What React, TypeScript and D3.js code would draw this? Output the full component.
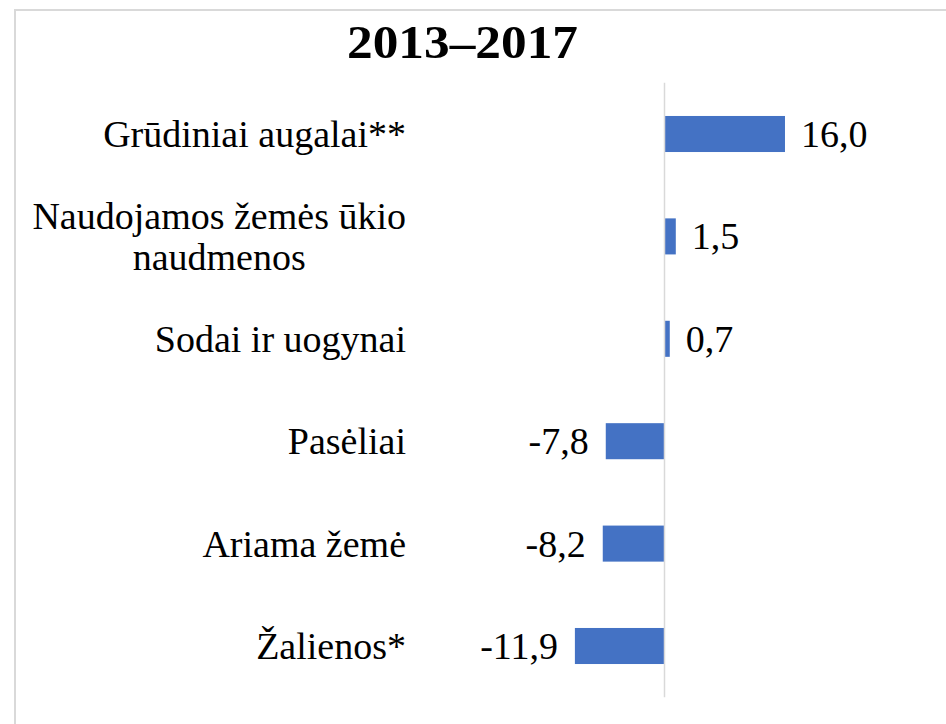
import React, { useEffect, useRef } from "react";
import * as d3 from "d3";

const title = "2013–2017";
const categories = [
  "Grūdiniai augalai**",
  "Naudojamos žemės ūkio naudmenos",
  "Sodai ir uogynai",
  "Pasėliai",
  "Ariama žemė",
  "Žalienos*",
];
const categoryLines = [
  ["Grūdiniai augalai**"],
  ["Naudojamos žemės ūkio", "naudmenos"],
  ["Sodai ir uogynai"],
  ["Pasėliai"],
  ["Ariama žemė"],
  ["Žalienos*"],
];
const values = [16.0, 1.5, 0.7, -7.8, -8.2, -11.9];
const xDomain = [-20, 20];

const W = 946;
const H = 724;
const FONT = "'Liberation Serif', 'Times New Roman', serif";

export default function App() {
  const ref = useRef<SVGSVGElement | null>(null);

  useEffect(() => {
    const svg = d3.select(ref.current);
    svg.selectAll("*").remove();

    // outer chart border (top and left visible)
    svg
      .append("path")
      .attr("d", `M15,${H + 5} V10 H${W + 5}`)
      .attr("fill", "none")
      .attr("stroke", "#d9d9d9")
      .attr("stroke-width", 2);

    // title
    svg
      .append("text")
      .attr("x", 462.5)
      .attr("y", 58)
      .attr("text-anchor", "middle")
      .attr("font-family", FONT)
      .attr("font-weight", "bold")
      .attr("font-size", 47)
      .attr("textLength", 231)
      .attr("lengthAdjust", "spacingAndGlyphs")
      .attr("fill", "#000")
      .text(title);

    const x = d3.scaleLinear().domain(xDomain).range([513.9, 815.1]);
    const y = d3
      .scaleBand<string>()
      .domain(categories)
      .range([82.8, 697.2])
      .paddingInner(0.648)
      .paddingOuter(0.324);

    const fmt = (v: number) => d3.format(".1f")(v).replace(".", ",").replace("−", "-");

    // bars
    svg
      .append("g")
      .selectAll("rect")
      .data(values)
      .join("rect")
      .attr("x", (d) => Math.min(x(0), x(d)))
      .attr("width", (d) => Math.abs(x(d) - x(0)))
      .attr("y", (_, i) => y(categories[i])!)
      .attr("height", y.bandwidth())
      .attr("fill", "#4472c4");

    // zero axis line
    svg
      .append("line")
      .attr("x1", x(0))
      .attr("x2", x(0))
      .attr("y1", 82.8)
      .attr("y2", 697.2)
      .attr("stroke", "#d9d9d9")
      .attr("stroke-width", 1.5);

    // value labels
    svg
      .append("g")
      .selectAll("text")
      .data(values)
      .join("text")
      .attr("x", (d) => (d >= 0 ? x(d) + 16 : x(d) - 17))
      .attr("y", (_, i) => y(categories[i])! + y.bandwidth() / 2 + 13)
      .attr("text-anchor", (d) => (d >= 0 ? "start" : "end"))
      .attr("font-family", FONT)
      .attr("font-size", 38)
      .attr("fill", "#000")
      .text((d) => fmt(d));

    // category labels
    const right = 406;
    const lineH = 41;
    const gLab = svg.append("g");
    categoryLines.forEach((lines, i) => {
      const cy = y(categories[i])! + y.bandwidth() / 2;
      const t = gLab
        .append("text")
        .attr("font-family", FONT)
        .attr("font-size", 38)
        .attr("fill", "#000");
      const spans = lines.map((ln, j) =>
        t
          .append("tspan")
          .attr("y", cy + 13 + (j - (lines.length - 1) / 2) * lineH)
          .text(ln)
      );
      if (lines.length === 1) {
        t.attr("text-anchor", "end");
        spans[0].attr("x", right);
      } else {
        const widths = spans.map((s) => (s.node() as SVGTSpanElement).getComputedTextLength());
        const maxW = Math.max(...widths);
        t.attr("text-anchor", "middle");
        spans.forEach((s) => s.attr("x", right - maxW / 2));
      }
    });
  }, []);

  return (
    <svg
      ref={ref}
      width={W}
      height={H}
      style={{ position: "absolute", left: 0, top: 0, background: "#fff" }}
    />
  );
}
